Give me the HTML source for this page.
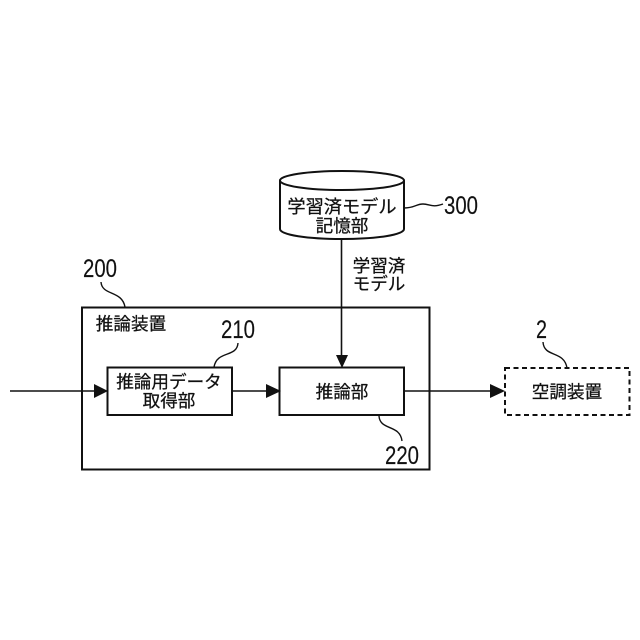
<!DOCTYPE html>
<html><head><meta charset="utf-8">
<style>html,body{margin:0;padding:0;background:#fff}svg{display:block}
text{fill:#111;stroke:#111;stroke-width:.25px}
.j{font-family:"Liberation Sans","Noto Sans CJK JP",sans-serif;font-size:17.600px;text-anchor:middle}
.w{font-size:18.200px}
.n{font-family:"Liberation Sans",sans-serif;font-size:25px;stroke-width:.15px}
</style></head><body>
<svg width="640" height="640" viewBox="0 0 640 640" xmlns="http://www.w3.org/2000/svg">
<rect x="0" y="0" width="640" height="640" fill="#fff"/>
<g fill="none" stroke="#111">
<rect x="82" y="307.500" width="347.500" height="162" stroke-width="2"/>
<rect x="107.500" y="367.500" width="124.500" height="47.500" stroke-width="2"/>
<rect x="279.500" y="367.500" width="124.500" height="47.500" stroke-width="2"/>
<rect x="505" y="368" width="124.500" height="47" stroke-width="2" stroke-dasharray="5 3.500"/>
<path d="M280 180.500V229C280 235 308 239 342 239S404 235 404 229V180.500" stroke-width="2" fill="#fff"/>
<ellipse cx="342" cy="180.500" rx="62" ry="9.500" stroke-width="2" fill="#fff"/>
<path d="M341.500 239V355" stroke-width="1.600"/>
<path d="M10 391H96" stroke-width="1.600"/>
<path d="M232 391H268" stroke-width="1.600"/>
<path d="M404 391H492" stroke-width="1.600"/>
<path d="M404 208C415 208 416 204 423 204C430 204 432 208 443 204" stroke-width="1.400"/>
<path d="M101 282C102 296 122 290 125 307" stroke-width="1.400"/>
<path d="M238 343C237 358 217 350 214 367" stroke-width="1.400"/>
<path d="M379 416C380 431 400 424 402 441" stroke-width="1.400"/>
<path d="M543 342C544 358 564 350 567 368" stroke-width="1.400"/>
</g>
<g fill="#111">
<polygon points="94,384 94,398 108,391"/>
<polygon points="266,384 266,398 281,391"/>
<polygon points="490,384 490,398 505,391"/>
<polygon points="336,355 348,355 342,368"/>
</g>
<text class="j w" x="342" y="213">学習済モデル</text>
<text class="j" x="342" y="232">記憶部</text>
<text class="j" x="379" y="272">学習済</text>
<text class="j" x="379" y="290">モデル</text>
<text class="j" x="131" y="330">推論装置</text>
<text class="j" x="169" y="388">推論用データ</text>
<text class="j" x="169" y="407">取得部</text>
<text class="j" x="342" y="398">推論部</text>
<text class="j" x="567" y="398">空調装置</text>
<text class="n" x="444" y="214" textLength="34" lengthAdjust="spacingAndGlyphs">300</text>
<text class="n" x="83" y="277" textLength="34" lengthAdjust="spacingAndGlyphs">200</text>
<text class="n" x="221" y="338" textLength="34" lengthAdjust="spacingAndGlyphs">210</text>
<text class="n" x="385" y="464" textLength="34" lengthAdjust="spacingAndGlyphs">220</text>
<text class="n" x="536" y="338" textLength="11" lengthAdjust="spacingAndGlyphs">2</text>
</svg>
</body></html>
